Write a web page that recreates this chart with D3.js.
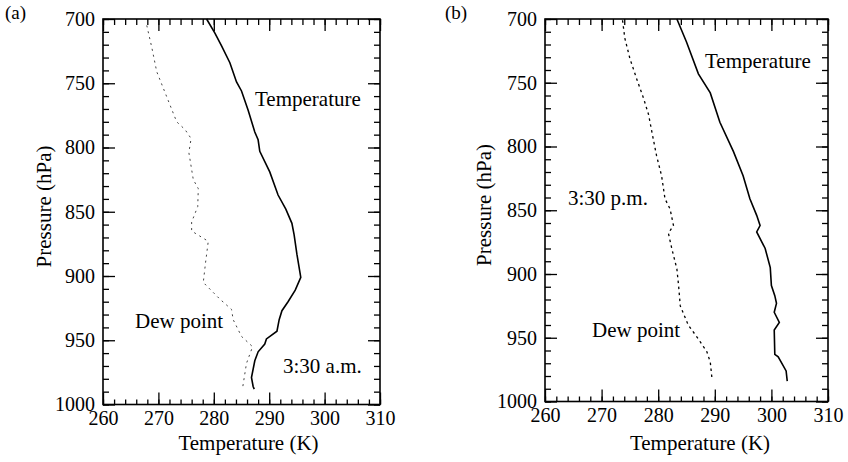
<!DOCTYPE html>
<html>
<head>
<meta charset="utf-8">
<script src="https://cdn.jsdelivr.net/npm/d3@7"></script>
<style>
  body { margin: 0; background: #fff; }
  svg { display: block; }
  svg text { font-family: "Liberation Serif", "Times New Roman", Times, "DejaVu Serif", serif; fill: #000; }
  .tick text { font-size: 20px; }
</style>
</head>
<body>
<script>
const tempA_p = [700, 711, 721, 734, 749, 756, 771, 788, 794, 803, 819, 837, 848, 859, 868, 883, 901, 911, 920, 927, 934, 943, 949, 953, 959, 966, 979, 986, 988];
const tempA_T = [278.7, 280.2, 281.4, 282.9, 284.1, 285.0, 286.2, 287.4, 288.0, 288.3, 290.1, 291.6, 293.0, 294.1, 294.5, 295.0, 295.7, 294.7, 293.4, 292.3, 291.8, 291.4, 289.5, 289.2, 288.0, 287.4, 286.8, 287.1, 287.3];

const dewA_p = [705, 722, 741, 754, 767, 780, 786, 793, 804, 825, 832, 846, 858, 865, 873, 890, 905, 918, 926, 934, 947, 955, 968, 987];
const dewA_T = [267.9, 268.8, 269.7, 270.9, 272.1, 273.3, 274.8, 275.9, 275.5, 276.3, 277.2, 277.1, 276.0, 276.0, 279.0, 278.5, 278.1, 281.1, 283.2, 283.5, 285.0, 287.0, 285.9, 285.2];

const tempB_p = [700, 718, 743, 758, 781, 804, 823, 841, 854, 862, 867, 880, 895, 909, 917, 923, 930, 938, 944, 963, 965, 976, 984];
const tempB_T = [283.3, 285.0, 287.1, 289.2, 290.9, 293.3, 295.0, 296.2, 297.4, 298.0, 297.4, 298.9, 299.8, 300.0, 300.6, 300.9, 300.5, 301.4, 300.5, 300.6, 301.2, 302.6, 302.8];

const dewB_p = [701, 715, 731, 747, 762, 775, 789, 807, 823, 841, 849, 862, 868, 880, 896, 909, 925, 940, 951, 961, 969, 982];
const dewB_T = [273.7, 274.1, 275.0, 276.2, 277.4, 278.3, 278.9, 279.7, 280.6, 281.2, 282.1, 282.7, 281.8, 282.4, 283.3, 283.6, 283.9, 285.3, 287.1, 288.6, 289.2, 289.5];

// Axis ticks
const tempTicks = [260, 270, 280, 290, 300, 310];
const pressTicks = [700, 750, 800, 850, 900, 950, 1000];
const tempMinor = d3.range(260, 311, 2);
const pressMinor = d3.range(700, 1001, 10);

const svg = d3.select("body").append("svg")
    .attr("width", 848)
    .attr("height", 462);

// Draw one sounding panel
function drawPanel(opt) {
    const width = opt.right - opt.left;
    const height = opt.bottom - opt.top;

    const g = svg.append("g")
        .attr("transform", `translate(${opt.left},${opt.top})`);

    const x = d3.scaleLinear().domain([260, 310]).range([0, width]);
    const y = d3.scaleLinear().domain([700, 1000]).range([0, height]);

    // minor ticks, all four sides, pointing inward
    g.append("g").call(d3.axisLeft(y).tickValues(pressMinor).tickSize(-6).tickFormat(""));
    g.append("g").attr("transform", `translate(${width},0)`)
        .call(d3.axisRight(y).tickValues(pressMinor).tickSize(-6).tickFormat(""));
    g.append("g").attr("transform", `translate(0,${height})`)
        .call(d3.axisBottom(x).tickValues(tempMinor).tickSize(-5).tickFormat(""));
    g.append("g")
        .call(d3.axisTop(x).tickValues(tempMinor).tickSize(-6).tickFormat(""));

    // major ticks with labels
    g.append("g")
        .call(d3.axisLeft(y).tickValues(pressTicks).tickSize(-12).tickPadding(8).tickFormat(d3.format("d")));
    g.append("g").attr("transform", `translate(${width},0)`)
        .call(d3.axisRight(y).tickValues(pressTicks).tickSize(-12).tickFormat(""));
    g.append("g").attr("transform", `translate(0,${height})`)
        .call(d3.axisBottom(x).tickValues(tempTicks).tickSize(-12).tickPadding(6).tickFormat(d3.format("d")));
    g.append("g")
        .call(d3.axisTop(x).tickValues(tempTicks).tickSize(-12).tickFormat(""));

    g.selectAll(".domain").remove();
    g.selectAll("g").attr("font-family", null);
    g.selectAll(".tick line").attr("stroke", "#000").attr("stroke-width", 1.3);

    // frame
    g.append("rect")
        .attr("width", width)
        .attr("height", height)
        .attr("fill", "none")
        .attr("stroke", "#000")
        .attr("stroke-width", 1.6);

    const line = d3.line()
        .x(d => x(d[1]))
        .y(d => y(d[0]));

    g.append("path")
        .datum(d3.zip(opt.dewP, opt.dewT))
        .attr("fill", "none")
        .attr("stroke", opt.dewColor)
        .attr("stroke-width", opt.dewWidth)
        .attr("stroke-dasharray", opt.dewDash)
        .attr("d", line);

    g.append("path")
        .datum(d3.zip(opt.tempP, opt.tempT))
        .attr("fill", "none")
        .attr("stroke", "#000")
        .attr("stroke-width", 1.6)
        .attr("d", line);

    // axis titles
    svg.append("text")
        .attr("x", opt.xTitleX)
        .attr("y", 450)
        .attr("text-anchor", "middle")
        .style("font-size", "21px")
        .text("Temperature (K)");

    svg.append("text")
        .attr("transform", `translate(${opt.yTitleX},${opt.yTitleY}) rotate(-90)`)
        .attr("text-anchor", "middle")
        .style("font-size", "21px")
        .text("Pressure (hPa)");

    // panel letter
    svg.append("text")
        .attr("x", opt.letterX)
        .attr("y", 19)
        .style("font-size", "19px")
        .text(opt.letter);

    // annotations
    opt.notes.forEach(n => {
        svg.append("text")
            .attr("x", n[0])
            .attr("y", n[1])
            .style("font-size", "21px")
            .text(n[2]);
    });
}

drawPanel({
    left: 103, right: 380, top: 19, bottom: 404.5,
    tempP: tempA_p, tempT: tempA_T, dewP: dewA_p, dewT: dewA_T,
    dewColor: "#444", dewWidth: 1, dewDash: "2,4",
    xTitleX: 248.5, yTitleX: 51, yTitleY: 206.5,
    letter: "(a)", letterX: 5,
    notes: [[255, 106, "Temperature"], [135, 328, "Dew point"], [283, 373, "3:30 a.m."]]
});

drawPanel({
    left: 545, right: 828, top: 19, bottom: 401.5,
    tempP: tempB_p, tempT: tempB_T, dewP: dewB_p, dewT: dewB_T,
    dewColor: "#000", dewWidth: 1.3, dewDash: "2.5,3.5",
    xTitleX: 700, yTitleX: 491, yTitleY: 205,
    letter: "(b)", letterX: 445,
    notes: [[705, 68, "Temperature"], [568, 205, "3:30 p.m."], [592, 337, "Dew point"]]
});
</script>
</body>
</html>
